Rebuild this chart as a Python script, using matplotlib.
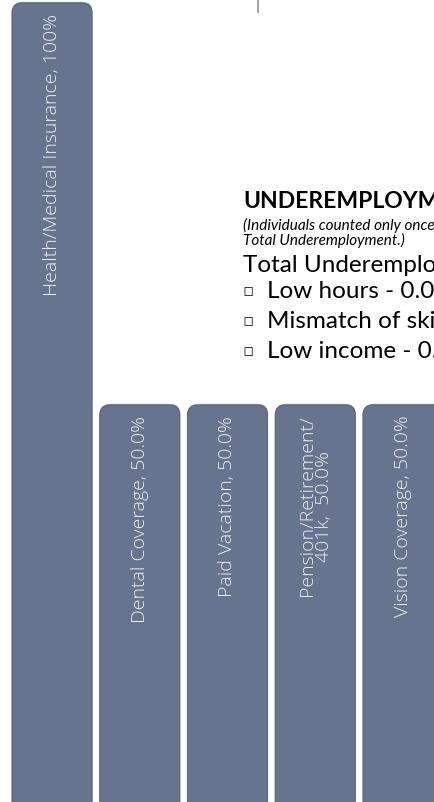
import matplotlib
matplotlib.use("Agg")
import matplotlib.pyplot as plt
from matplotlib.patches import FancyBboxPatch
from matplotlib.lines import Line2D

# ---- data ----
categories = ["Health/Medical Insurance", "Dental Coverage", "Paid Vacation",
              "Pension/Retirement/\n401k", "Vision Coverage"]
values = [100, 50, 50, 50, 50]
value_labels = ["100%", "50.0%", "50.0%", " 50.0%", "50.0%"]

heading = "UNDEREMPLOYMENT"
note_lines = ["(Individuals counted only once in", "Total Underemployment.)"]
total_line = "Total Underemployment - 0.0%"
bullet_items = ["Low hours - 0.0%", "Mismatch of skills - 0.0%", "Low income - 0.0%"]

# ---- figure ----
W, H = 435, 803
fig = plt.figure(figsize=(W / 100, H / 100), dpi=100)
ax = fig.add_axes([0, 0, 1, 1])
ax.set_xlim(-0.5926, 4.365)
ax.set_ylim(0.62, 100.5)
ax.axis("off")

bar_color = "#68748F"
edge_color = "#59637A"
width = 0.912
r = 0.114
aspect = 10.9

for i, (cat, v, vl) in enumerate(zip(categories, values, value_labels)):
    shadow = FancyBboxPatch((i - width / 2 + 0.006, -5), width, v + 5 + 0.15,
                            boxstyle=f"round,pad=0,rounding_size={r}",
                            mutation_aspect=aspect, fc="#555555", ec="none",
                            alpha=0.45, zorder=1)
    ax.add_patch(shadow)
    p = FancyBboxPatch((i - width / 2, -5), width, v + 5,
                       boxstyle=f"round,pad=0,rounding_size={r}",
                       mutation_aspect=aspect, fc=bar_color, ec=edge_color,
                       lw=0.8, zorder=2)
    ax.add_patch(p)
    ax.annotate(f"{cat}, {vl}", xy=(i, v), xytext=(0, -7),
                textcoords="offset points", rotation=90, ha="center", va="top",
                multialignment="center", color="#EEEEF0", fontsize=14,
                family="Open Sans", fontweight="light", zorder=3, linespacing=0.95)

# small vertical line at top
fig.add_artist(Line2D([258 / W, 258 / W], [1, 1 - 13 / H], color="#9A9A9A", lw=1.3))

def fx(px):
    return px / W

def fy(py):
    return 1 - py / H

x0 = 243
fig.text(fx(x0), fy(208), heading, fontsize=16.5, fontweight="bold",
         family="Lato", color="black", va="baseline")
fig.text(fx(x0), fy(230), note_lines[0], fontsize=11, style="italic",
         family="Lato", color="black", va="baseline")
fig.text(fx(x0), fy(245), note_lines[1], fontsize=11, style="italic",
         family="Lato", color="black", va="baseline")
fig.text(fx(x0), fy(272), total_line, fontsize=17.5,
         family="Lato", color="black", va="baseline")
for k, item in enumerate(bullet_items):
    yb = 298 + 30 * k
    fig.text(fx(x0), fy(yb - 2), "\u25ab", fontsize=12,
             family=["DejaVu Sans"], color="#333333", va="baseline")
    fig.text(fx(267), fy(yb), item, fontsize=17.5,
             family="Lato", color="black", va="baseline")

fig.savefig("out.png", dpi=100)
